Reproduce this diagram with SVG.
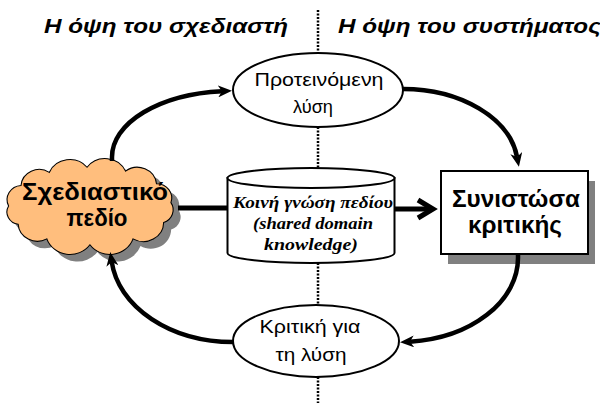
<svg xmlns="http://www.w3.org/2000/svg" width="600" height="403" viewBox="0 0 600 403">
  <style>
    .title { font-family: "Liberation Sans", Arial, sans-serif; font-size: 21px; font-weight: bold; font-style: italic; fill: #000; }
    .oval { fill: #fff; stroke: #000; stroke-width: 2; }
    .ovaltxt { font-family: "Liberation Sans", Arial, sans-serif; font-size: 19px; fill: #000; text-anchor: middle; }
    .boldtxt { font-family: "Liberation Sans", Arial, sans-serif; font-size: 23px; font-weight: bold; fill: #000; text-anchor: middle; }
    .dbtxt { font-family: "Liberation Serif", "Times New Roman", serif; font-size: 17px; font-weight: bold; font-style: italic; fill: #000; text-anchor: middle; }
    .divider { stroke: #000; stroke-width: 2.5; stroke-dasharray: 2 1.5; fill: none; }
    .flow { fill: none; stroke: #000; stroke-width: 4.5; }
    .shadow { fill: #808080; }
  </style>
  <defs>
    <marker id="stealth" markerUnits="userSpaceOnUse" markerWidth="16" markerHeight="12" viewBox="0 0 16 12" refX="4" refY="6" orient="auto">
      <path d="M0,0 L14,6 L0,12 L4,6 z" fill="#000"/>
    </marker>
    <path id="cloudShape" d="M14,206 A14,14 0 0 1 25.6,185.9 A17,17 0 0 1 52,173.1 A21,21 0 0 1 87.3,168 A21,21 0 0 1 123.3,171.8 A18,18 0 0 1 152.2,184.2 A14,14 0 0 1 165.7,202.7 A13,13 0 0 1 158.9,222.1 A19,19 0 0 1 130.3,238.2 A23,23 0 0 1 90,244 A23,23 0 0 1 49.7,238.2 A18,18 0 0 1 22.9,223.8 A12,12 0 0 1 14,206 z"/>
  </defs>

  <!-- view headings -->
  <text class="title" x="44" y="33" textLength="244" lengthAdjust="spacingAndGlyphs">Η όψη του σχεδιαστή</text>
  <text class="title" x="338" y="33" textLength="263" lengthAdjust="spacingAndGlyphs">Η όψη του συστήματος</text>

  <!-- divider between the two views -->
  <g id="divider">
    <line class="divider" x1="318" y1="10" x2="318" y2="53"/>
    <line class="divider" x1="318" y1="127" x2="318" y2="168"/>
    <line class="divider" x1="318" y1="263" x2="318" y2="305"/>
    <line class="divider" x1="318" y1="377" x2="318" y2="403"/>
  </g>

  <!-- design domain (cloud) -->
  <g id="design-domain">
    <g transform="translate(91,206) scale(1.07,1.02) translate(-91,-206)">
      <use href="#cloudShape" class="shadow" transform="translate(7,7)"/>
      <use href="#cloudShape" fill="#FFBE7D" stroke="#000" stroke-width="1"/>
    </g>
    <text class="boldtxt" x="95" y="200" textLength="146" lengthAdjust="spacingAndGlyphs">Σχεδιαστικό</text>
    <text class="boldtxt" x="97" y="226" textLength="61" lengthAdjust="spacingAndGlyphs">πεδίο</text>
  </g>

  <!-- proposed solution -->
  <g id="proposed-solution">
    <ellipse class="oval" cx="318" cy="90" rx="85" ry="37"/>
    <text class="ovaltxt" x="319" y="86" textLength="129" lengthAdjust="spacingAndGlyphs">Προτεινόμενη</text>
    <text class="ovaltxt" x="313" y="113" textLength="40" lengthAdjust="spacingAndGlyphs">λύση</text>
  </g>

  <!-- shared domain knowledge store -->
  <g id="shared-knowledge">
    <path class="oval" d="M227.5,178 L227.5,253 A83.5,10 0 0 0 394.5,253 L394.5,178 z"/>
    <ellipse class="oval" cx="311" cy="178" rx="83.5" ry="10"/>
    <text class="dbtxt" x="313" y="208" textLength="160" lengthAdjust="spacingAndGlyphs">Κοινή γνώση πεδίου</text>
    <text class="dbtxt" x="313" y="229" textLength="120" lengthAdjust="spacingAndGlyphs">(shared domain</text>
    <text class="dbtxt" x="311" y="250" textLength="94" lengthAdjust="spacingAndGlyphs">knowledge)</text>
  </g>

  <!-- critic component -->
  <g id="critic">
    <rect class="shadow" x="448" y="181" width="147" height="83"/>
    <rect x="441" y="171" width="147" height="83" fill="#fff" stroke="#000" stroke-width="2"/>
    <text class="boldtxt" x="516" y="207" textLength="128" lengthAdjust="spacingAndGlyphs">Συνιστώσα</text>
    <text class="boldtxt" x="515" y="233" textLength="94" lengthAdjust="spacingAndGlyphs">κριτικής</text>
  </g>

  <!-- critique of the solution -->
  <g id="critique">
    <ellipse class="oval" cx="316" cy="341" rx="83" ry="36"/>
    <text class="ovaltxt" x="310" y="333" textLength="101" lengthAdjust="spacingAndGlyphs">Κριτική για</text>
    <text class="ovaltxt" x="311" y="361" textLength="71" lengthAdjust="spacingAndGlyphs">τη λύση</text>
  </g>

  <!-- connectors -->
  <g id="connectors">
    <path class="flow" d="M112,161 L112,157 A120,66 0 0 1 222,91.2" marker-end="url(#stealth)"/>
    <path class="flow" d="M403,89 A115,78 0 0 1 517.05,157" marker-end="url(#stealth)"/>
    <path class="flow" d="M518,254 L518,258 A118,84 0 0 1 410,341.7" marker-end="url(#stealth)"/>
    <path class="flow" d="M233,342 A122,90 0 0 1 111.75,262" marker-end="url(#stealth)"/>
    <line x1="178" y1="208" x2="227" y2="208" stroke="#000" stroke-width="5"/>
    <line x1="395" y1="209" x2="431" y2="209" stroke="#000" stroke-width="5"/>
    <polyline points="418,200 433,209 418,218" fill="none" stroke="#000" stroke-width="5"/>
  </g>
</svg>
